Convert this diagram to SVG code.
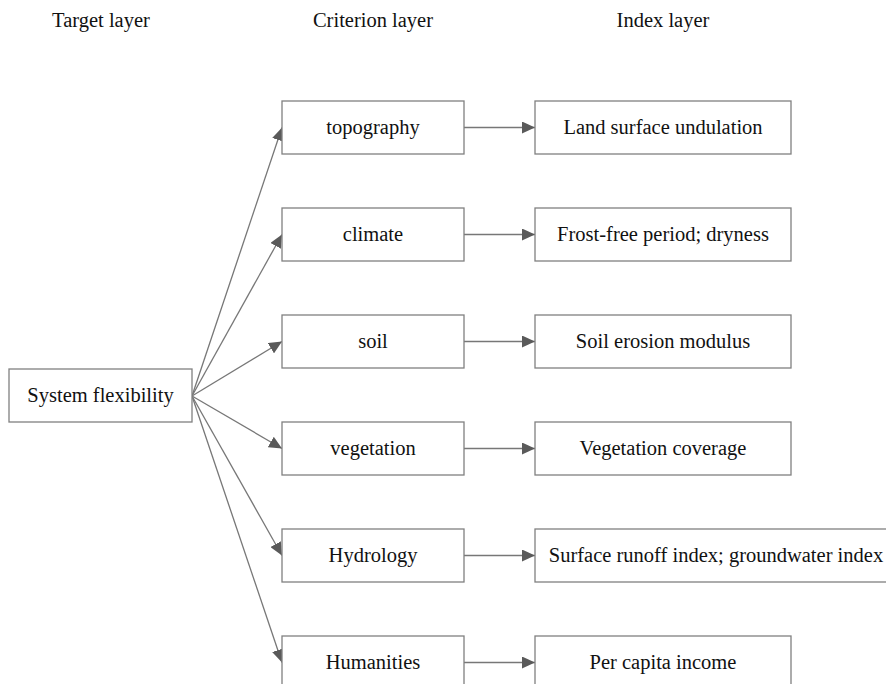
<svg xmlns="http://www.w3.org/2000/svg" width="886" height="684" viewBox="0 0 886 684">
<style>
text{font-family:"Liberation Serif","Times New Roman",serif;font-size:20.5px;fill:#111;text-anchor:middle}
.box{fill:#fff;stroke:#808080;stroke-width:1.3}
.conn{stroke:#777;stroke-width:1.3;fill:none;marker-end:url(#ah)}
</style>
<defs>
<marker id="ah" markerUnits="userSpaceOnUse" markerWidth="13" markerHeight="12" refX="13" refY="6" orient="auto">
<path d="M0,0 L13,6 L0,12 z" fill="#5a5a5a"/>
</marker>
</defs>
<rect width="886" height="684" fill="#fff"/>
<g id="headers">
<text x="101" y="27">Target layer</text>
<text x="373" y="27">Criterion layer</text>
<text x="663" y="27">Index layer</text>
</g>
<g id="connectors">
<line class="conn" x1="192" y1="396" x2="282" y2="127.5"/>
<line class="conn" x1="192" y1="396" x2="282" y2="234.5"/>
<line class="conn" x1="192" y1="396" x2="282" y2="341.5"/>
<line class="conn" x1="192" y1="396" x2="282" y2="448.5"/>
<line class="conn" x1="192" y1="396" x2="282" y2="555.5"/>
<line class="conn" x1="192" y1="396" x2="282" y2="662.5"/>
<line class="conn" x1="464" y1="127.5" x2="535" y2="127.5"/>
<line class="conn" x1="464" y1="234.5" x2="535" y2="234.5"/>
<line class="conn" x1="464" y1="341.5" x2="535" y2="341.5"/>
<line class="conn" x1="464" y1="448.5" x2="535" y2="448.5"/>
<line class="conn" x1="464" y1="555.5" x2="535" y2="555.5"/>
<line class="conn" x1="464" y1="662.5" x2="535" y2="662.5"/>
</g>
<g id="target"><rect class="box" x="9" y="369" width="183" height="53"/><text x="100.5" y="402">System flexibility</text></g>
<g id="topography"><rect class="box" x="282" y="101" width="182" height="53"/><text x="373" y="134">topography</text></g>
<g id="climate"><rect class="box" x="282" y="208" width="182" height="53"/><text x="373" y="241">climate</text></g>
<g id="soil"><rect class="box" x="282" y="315" width="182" height="53"/><text x="373" y="348">soil</text></g>
<g id="vegetation"><rect class="box" x="282" y="422" width="182" height="53"/><text x="373" y="455">vegetation</text></g>
<g id="hydrology"><rect class="box" x="282" y="529" width="182" height="53"/><text x="373" y="562">Hydrology</text></g>
<g id="humanities"><rect class="box" x="282" y="636" width="182" height="53"/><text x="373" y="669">Humanities</text></g>
<g id="idx-topography"><rect class="box" x="535" y="101" width="256" height="53"/><text x="663" y="134">Land surface undulation</text></g>
<g id="idx-climate"><rect class="box" x="535" y="208" width="256" height="53"/><text x="663" y="241">Frost-free period; dryness</text></g>
<g id="idx-soil"><rect class="box" x="535" y="315" width="256" height="53"/><text x="663" y="348">Soil erosion modulus</text></g>
<g id="idx-vegetation"><rect class="box" x="535" y="422" width="256" height="53"/><text x="663" y="455">Vegetation coverage</text></g>
<g id="idx-hydrology"><rect class="box" x="535" y="529" width="360" height="53"/><text x="716" y="562">Surface runoff index; groundwater index</text></g>
<g id="idx-humanities"><rect class="box" x="535" y="636" width="256" height="53"/><text x="663" y="669">Per capita income</text></g>
</svg>
